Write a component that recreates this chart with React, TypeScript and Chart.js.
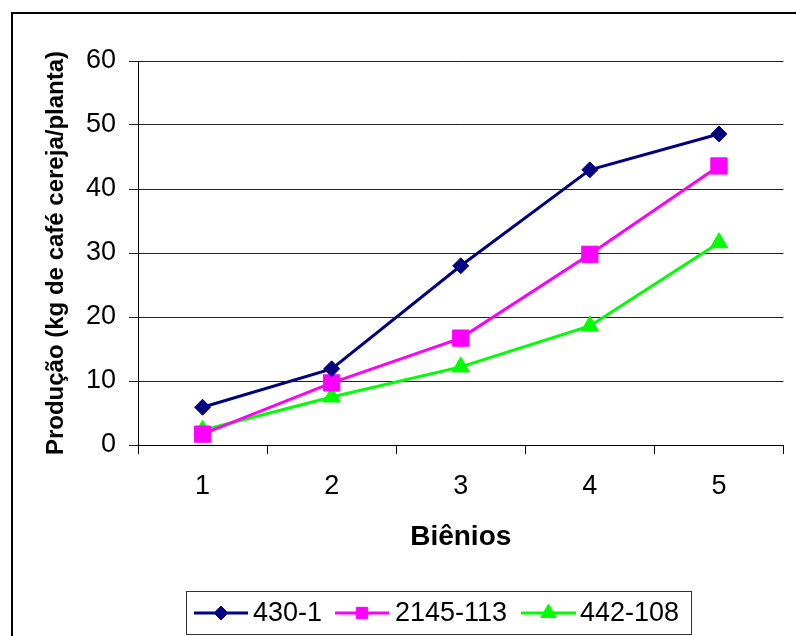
import React, { useEffect, useRef } from 'react';
import { Chart, registerables } from 'chart.js';
import { drawPoint } from 'chart.js/helpers';

Chart.register(...registerables);

const categories = ['1', '2', '3', '4', '5'];
const seriesNames = ['430-1', '2145-113', '442-108'];
const series430 = [5.9, 11.9, 28.0, 43.0, 48.6];
const series2145 = [1.7, 9.7, 16.7, 29.8, 43.6];
const series442 = [2.3, 7.5, 12.2, 18.6, 31.6];
const yMin = 0;
const yMax = 60;
const yStep = 10;
const yTitle = 'Produção (kg de café cereja/planta)';
const xTitle = 'Biênios';

const colors = ['#000080', '#FF00FF', '#00FF00'];
const pointStyles = ['rectRot', 'rect', 'triangle'];
const FONT = "'Liberation Sans', Arial, sans-serif";

const framePlugin = {
  id: 'frameAndLegend',
  afterDraw(chart: any) {
    const ctx = chart.ctx;
    ctx.save();
    // outer frame
    ctx.strokeStyle = '#000';
    ctx.lineWidth = 2;
    ctx.strokeRect(12, 13, 1000, 1000);
    // legend box
    ctx.lineWidth = 1;
    ctx.strokeStyle = '#333';
    ctx.strokeRect(186.5, 591.5, 505, 43);
    const cy = 613;
    const items = [
      { x0: 194, x1: 248, tx: 253, r: 7 },
      { x0: 335, x1: 389, tx: 395, r: 8 },
      { x0: 521, x1: 576, tx: 580, r: 9 },
    ];
    ctx.font = `27px ${FONT}`;
    ctx.textBaseline = 'middle';
    ctx.textAlign = 'left';
    items.forEach((it, i) => {
      ctx.strokeStyle = colors[i];
      ctx.lineWidth = 3;
      ctx.beginPath();
      ctx.moveTo(it.x0, cy);
      ctx.lineTo(it.x1, cy);
      ctx.stroke();
      ctx.fillStyle = colors[i];
      ctx.strokeStyle = colors[i];
      ctx.lineWidth = 1;
      drawPoint(ctx, { pointStyle: pointStyles[i], radius: it.r, rotation: 0, borderWidth: 1 } as any, (it.x0 + it.x1) / 2, cy);
      ctx.fillStyle = '#000';
      ctx.fillText(seriesNames[i], it.tx, cy + 1);
    });
    ctx.restore();
  },
};

export default function App() {
  const ref = useRef<HTMLCanvasElement | null>(null);

  useEffect(() => {
    document.body.style.margin = '0';
    const canvas = ref.current;
    if (!canvas) return;
    const data = [series430, series2145, series442];
    const radii = [8, 11.5, 10];
    const chart = new Chart(canvas, {
      type: 'line',
      data: {
        labels: categories,
        datasets: seriesNames.map((name, i) => ({
          label: name,
          data: data[i],
          borderColor: colors[i],
          backgroundColor: colors[i],
          borderWidth: 3,
          pointStyle: pointStyles[i] as any,
          pointRadius: radii[i],
          pointBorderWidth: 1,
          pointBackgroundColor: colors[i],
          pointBorderColor: colors[i],
          tension: 0,
          fill: false,
        })),
      },
      options: {
        responsive: false,
        animation: false,
        devicePixelRatio: 1,
        layout: { padding: { left: 0, top: 61, right: 11, bottom: 0 } },
        plugins: {
          legend: { display: false },
          tooltip: { enabled: false },
        },
        scales: {
          x: {
            type: 'category',
            offset: true,
            grid: {
              display: true,
              drawOnChartArea: false,
              drawTicks: true,
              tickLength: 9,
              color: '#000',
              offset: true,
            },
            border: { display: true, color: '#000', width: 1 },
            ticks: {
              color: '#000',
              font: { family: FONT, size: 27 },
              padding: 16,
              maxRotation: 0,
            },
            title: {
              display: true,
              text: xTitle,
              color: '#000',
              font: { family: FONT, size: 28, weight: 'bold' },
              padding: { top: 0, bottom: 82 },
            },
            afterFit: (s: any) => {
              s.height = 191;
            },
          },
          y: {
            min: yMin,
            max: yMax,
            ticks: {
              stepSize: yStep,
              color: '#000',
              font: { family: FONT, size: 27 },
              padding: 13,
            },
            grid: {
              color: '#222',
              tickLength: 9,
              drawTicks: true,
            },
            border: { display: true, color: '#000', width: 1 },
            title: {
              display: true,
              text: yTitle,
              color: '#000',
              font: { family: FONT, size: 24, weight: 'bold' },
              padding: { top: 42, bottom: 0 },
            },
            afterFit: (s: any) => {
              s.width = 138;
            },
          },
        },
      },
      plugins: [framePlugin],
    });
    return () => chart.destroy();
  }, []);

  return (
    <div style={{ width: 796, height: 636, background: '#fff' }}>
      <canvas ref={ref} width={796} height={636} style={{ display: 'block' }} />
    </div>
  );
}
